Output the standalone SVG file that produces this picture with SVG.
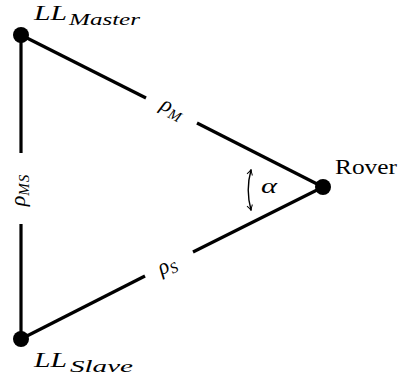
<svg xmlns="http://www.w3.org/2000/svg" width="402" height="377" viewBox="0 0 402 377">
<style>
.edge{stroke:#000;stroke-width:3.2;fill:none;stroke-linecap:butt}
.node{fill:#000}
.t{font-family:"Liberation Serif",serif;fill:#000}
.i{font-style:italic}
</style>
<defs>
<marker id="ah" viewBox="0 0 10 10" refX="8" refY="5" markerWidth="7" markerHeight="7" orient="auto-start-reverse" markerUnits="userSpaceOnUse">
<path d="M1,1 Q5,4 9,5 Q5,6 1,9" fill="none" stroke="#000" stroke-width="1.4"/>
</marker>
</defs>
<rect width="402" height="377" fill="#fff"/>
<g id="connectors">
<line class="edge" x1="21" y1="35" x2="146" y2="98"/>
<line class="edge" x1="197" y1="123" x2="323" y2="187"/>
<line class="edge" x1="21" y1="339" x2="145" y2="276"/>
<line class="edge" x1="193" y1="252" x2="323" y2="187"/>
<line class="edge" x1="21" y1="35" x2="21" y2="153"/>
<line class="edge" x1="21" y1="224" x2="21" y2="339"/>
<text class="t i" font-size="22" transform="translate(170,114) rotate(26.7)" text-anchor="middle">ρ<tspan font-size="15" dy="4" letter-spacing="1">M</tspan></text>
<text class="t i" font-size="22" transform="translate(170,271) rotate(-26.7)" text-anchor="middle">ρ<tspan font-size="15" dy="4" letter-spacing="1">S</tspan></text>
<text class="t i" font-size="22" transform="translate(25,190) rotate(-90)" text-anchor="middle">ρ<tspan font-size="15" dy="4" letter-spacing="1">MS</tspan></text>
<path d="M251,170 A75,75 0 0 0 251,210" fill="none" stroke="#000" stroke-width="1.4" marker-start="url(#ah)" marker-end="url(#ah)"/>
<text class="t i" x="261" y="193" font-size="22" textLength="16" lengthAdjust="spacingAndGlyphs">α</text>
</g>
<g id="master">
<circle class="node" cx="21" cy="35" r="8"/>
<text class="t i" x="34" y="20" font-size="21" textLength="33" lengthAdjust="spacingAndGlyphs">LL</text>
<text class="t i" x="69" y="25" font-size="16" textLength="71" lengthAdjust="spacingAndGlyphs">Master</text>
</g>
<g id="slave">
<circle class="node" cx="21" cy="339" r="8"/>
<text class="t i" x="34" y="367" font-size="21" textLength="33" lengthAdjust="spacingAndGlyphs">LL</text>
<text class="t i" x="70" y="372" font-size="16" textLength="63" lengthAdjust="spacingAndGlyphs">Slave</text>
</g>
<g id="rover">
<circle class="node" cx="323" cy="187" r="8"/>
<text class="t" x="335" y="174" font-size="20" textLength="62" lengthAdjust="spacingAndGlyphs">Rover</text>
</g>
</svg>
